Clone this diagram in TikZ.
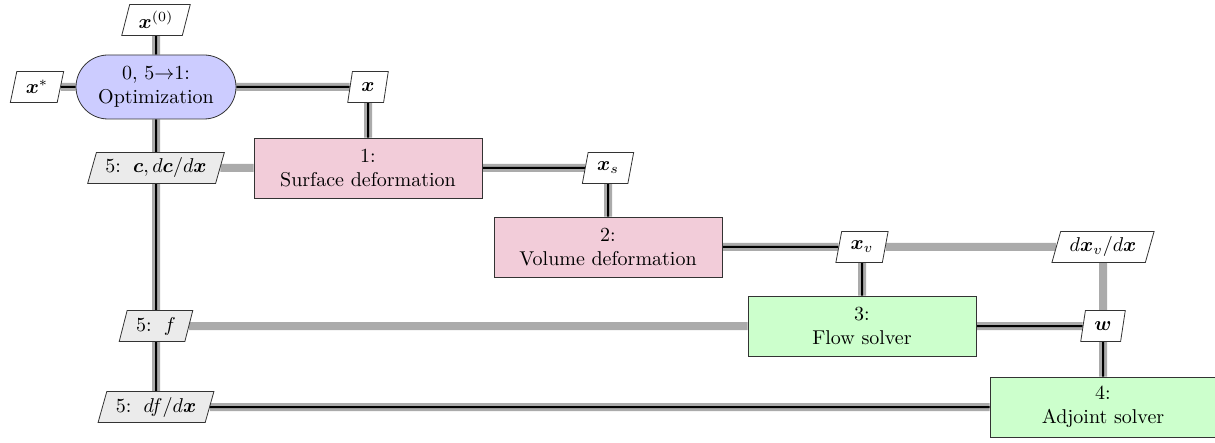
\documentclass[tikz,border=0pt]{standalone}
\usepackage{amsmath}
\usepackage{amssymb}
\usepackage{tikz}
\usetikzlibrary{backgrounds,shapes.geometric,shapes.misc}
\definecolor{optblue}{RGB}{204,204,255}
\definecolor{funcpink}{RGB}{242,204,217}
\definecolor{solvgreen}{RGB}{204,255,204}
\tikzset{
  optbox/.style={draw=black!80,fill=optblue,rounded rectangle,minimum width=84pt,minimum height=32pt,align=center,inner sep=2pt},
  funcbox/.style={draw=black!80,rectangle,minimum width=114pt,minimum height=30pt,align=center,inner sep=2pt},
  databox/.style={draw=black!80,fill=white,trapezium,trapezium left angle=70,trapezium right angle=110,trapezium stretches body,minimum height=15.5pt,inner xsep=4.5pt,inner ysep=1pt},
  fbbox/.style={databox,fill=black!8},
  dataline/.style={line width=4pt,black!33},
  procline/.style={line width=1pt,black},
}
\begin{document}
\begin{tikzpicture}[x=0.5pt,y=-0.5pt]
\useasboundingbox (0,0) rectangle (1215,443);
%Spalte Optimierer
\node[optbox] (opt) at (156,87) {0, 5$\to$1:\\Optimization};
\node[databox] (x0) at (156,20) {$\boldsymbol{x}^{(0)}$};
\node[databox] (xstar) at (37,87) {$\boldsymbol{x}^*$};
\node[fbbox] (cdc) at (156,168) {5: \,$\boldsymbol{c}, d\boldsymbol{c}/d\boldsymbol{x}$};
\node[fbbox] (f) at (156,326) {5: \,$f$};
\node[fbbox] (dfdx) at (156,407) {5: \,$df/d\boldsymbol{x}$};
%Diagonale
\node[funcbox,fill=funcpink] (surf) at (368,168) {1:\\Surface deformation};
\node[funcbox,fill=funcpink] (vol) at (608,247) {2:\\Volume deformation};
\node[funcbox,fill=solvgreen] (flow) at (862,326) {3:\\Flow solver};
\node[funcbox,fill=solvgreen,minimum width=113pt] (adj) at (1103,407) {4:\\Adjoint solver};
%Daten
\node[databox] (x) at (368,87) {$\boldsymbol{x}$};
\node[databox] (xs) at (608,168) {$\boldsymbol{x}_s$};
\node[databox] (xv) at (862,247) {$\boldsymbol{x}_v$};
\node[databox] (dxv) at (1103,247) {$d\boldsymbol{x}_v/d\boldsymbol{x}$};
\node[databox] (w) at (1103,326) {$\boldsymbol{w}$};
\begin{scope}[on background layer]
%graue Datenlinien
\draw[dataline] (x0) -- (opt);
\draw[dataline] (xstar) -- (opt);
\draw[dataline] (opt) -- (x) -- (surf);
\draw[dataline] (cdc) -- (surf);
\draw[dataline] (surf) -- (xs) -- (vol);
\draw[dataline] (vol) -- (xv) -- (flow);
\draw[dataline] (xv) -- (dxv) -- (w);
\draw[dataline] (flow) -- (w) -- (adj);
\draw[dataline] (f) -- (flow);
\draw[dataline] (adj) -- (dfdx);
\draw[dataline] (opt) -- (cdc) -- (f) -- (dfdx);
%schwarze Prozesslinien
\draw[procline] (x0) -- (opt);
\draw[procline] (xstar) -- (opt);
\draw[procline] (opt) -- (x) -- (surf);
\draw[procline] (surf) -- (xs) -- (vol);
\draw[procline] (vol) -- (xv) -- (flow);
\draw[procline] (flow) -- (w) -- (adj);
\draw[procline] (adj) -- (dfdx);
\draw[procline] (opt) -- (cdc) -- (f) -- (dfdx);
\end{scope}
\end{tikzpicture}
\end{document}
